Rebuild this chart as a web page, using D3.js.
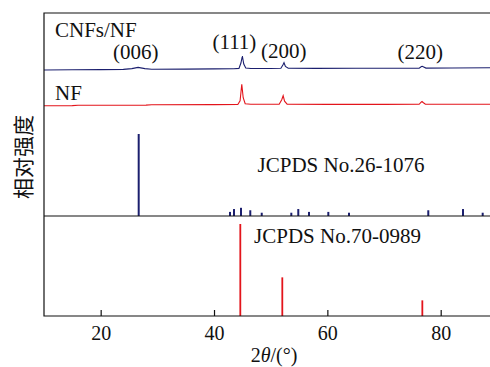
<!DOCTYPE html>
<html lang="zh">
<head>
    <meta charset="utf-8">
    <title>XRD</title>
    <style>
        body { margin: 0; background: #fff; }
        svg text { font-family: "Liberation Serif", "Times New Roman", serif; fill: #111; }
        svg text.cjk { font-family: "Noto Sans CJK SC", sans-serif; }
    </style>
</head>
<body>
    <div id="container"></div>

    <script src="https://cdn.jsdelivr.net/npm/d3@7"></script>
    <script>
        // measured patterns: [2theta, intensity above own baseline]
        const cnfCurve = [
            [10, 0], [15, 0.2], [20, 0.4], [24, 0.6], [25.5, 1.4], [26.6, 2.6], [27.8, 1.4], [29, 0.8],
            [35, 0.9], [40, 1.1], [43.5, 1.3], [44.4, 1.6], [44.75, 7], [45.0, 14], [45.25, 6], [45.6, 2],
            [46.5, 1.5], [50, 1.5], [51.8, 1.8], [52.15, 5], [52.35, 7.3], [52.6, 3.5], [53.1, 1.8],
            [58, 1.6], [65, 1.7], [72, 1.7], [76.2, 1.8], [76.6, 3.5], [76.75, 3.7], [77, 3], [77.4, 1.9],
            [82, 2], [88.7, 2.3]
        ];
        const nfCurve = [
            [10, 0], [15, 0.1], [16, 0.5], [28, 0.6], [29, 1.0], [40, 1.1], [44.2, 1.2], [44.6, 5],
            [44.9, 21.4], [45.15, 8], [45.5, 2], [46.5, 1.4], [51.5, 1.4], [51.95, 6], [52.2, 10],
            [52.45, 4.5], [52.9, 1.6], [60, 1.3], [70, 1.3], [76.2, 1.4], [76.55, 3.5], [76.7, 4.2],
            [76.9, 3.2], [77.3, 1.5], [88.7, 1.4]
        ];
        // vertical stacking of the two curves (same units as curves)
        const curveOffsets = { cnf: 146, nf: 110.3 };

        // reference sticks: [2theta, relative intensity]
        const graphiteSticks = [
            [26.71, 100], [42.82, 5], [43.53, 8.5], [44.76, 10], [46.4, 7], [48.42, 4], [53.64, 4],
            [54.87, 8.5], [56.76, 5], [60.17, 5], [63.82, 4], [77.81, 7], [83.94, 8.5], [87.41, 4]
        ];
        const nickelSticks = [[44.64, 100], [52.05, 42], [76.76, 17]];

        const hklLabels = ["(006)", "(111)", "(200)", "(220)"];
        const hklPos = [26.2, 43.6, 52.3, 76.4];
        const xTicks = [20, 40, 60, 80];

        const width = 490, height = 367;
        const pLeft = 44, pRight = 490, pTop = 13, pMid = 216, pBottom = 316;
        const blue = "#1b1f6e", red = "#e3141b";
        const fs = 21;

        const svg = d3.select("#container").append("svg")
            .attr("width", width)
            .attr("height", height);

        const x = d3.scaleLinear().domain([10, 88.7]).range([pLeft, pRight]);
        const yCurve = d3.scaleLinear().domain([0, pMid - pTop]).range([pMid, pTop]);
        const yGraphite = d3.scaleLinear().domain([0, 100]).range([pMid, 134]);
        const yNickel = d3.scaleLinear().domain([0, 100]).range([pBottom, 224]);

        // curves
        const line = off => d3.line()
            .x(d => x(d[0]))
            .y(d => yCurve(d[1] + off));

        svg.append("path")
            .datum(cnfCurve)
            .attr("d", line(curveOffsets.cnf))
            .attr("fill", "none")
            .attr("stroke", blue)
            .attr("stroke-width", 1.1);

        svg.append("path")
            .datum(nfCurve)
            .attr("d", line(curveOffsets.nf))
            .attr("fill", "none")
            .attr("stroke", red)
            .attr("stroke-width", 1.1);

        // sticks
        svg.selectAll(".gr")
            .data(graphiteSticks)
            .enter().append("line")
            .attr("x1", d => x(d[0])).attr("x2", d => x(d[0]))
            .attr("y1", yGraphite(0)).attr("y2", d => yGraphite(d[1]))
            .attr("stroke", blue)
            .attr("stroke-width", 2);

        svg.selectAll(".ni")
            .data(nickelSticks)
            .enter().append("line")
            .attr("x1", d => x(d[0])).attr("x2", d => x(d[0]))
            .attr("y1", yNickel(0)).attr("y2", d => yNickel(d[1]))
            .attr("stroke", red)
            .attr("stroke-width", 1.8);

        // frame (right side runs off the picture)
        svg.append("path")
            .attr("d", `M${pRight + 2},${pTop}H${pLeft}V${pBottom}H${pRight + 2}M${pLeft},${pMid}H${pRight + 2}`)
            .attr("fill", "none")
            .attr("stroke", "#111")
            .attr("stroke-width", 1.2);

        // x axis, ticks pointing inward
        const xAxis = svg.append("g")
            .attr("transform", `translate(0,${pBottom})`)
            .call(d3.axisBottom(x).tickValues(xTicks).tickSizeInner(-6).tickSizeOuter(0).tickPadding(10));
        xAxis.select(".domain").remove();
        xAxis.selectAll("line").attr("stroke", "#111").attr("stroke-width", 1.2);
        xAxis.selectAll("text")
            .attr("font-size", 20)
            .attr("fill", "#111");

        // labels
        svg.append("text").attr("x", 55).attr("y", 37).attr("font-size", fs).text("CNFs/NF");
        svg.append("text").attr("x", 55).attr("y", 100).attr("font-size", fs).text("NF");

        const hklY = [59, 49, 57.5, 59];
        svg.selectAll(".hkl")
            .data(hklLabels)
            .enter().append("text")
            .attr("x", (d, i) => x(hklPos[i]))
            .attr("y", (d, i) => hklY[i])
            .attr("text-anchor", "middle")
            .attr("font-size", fs)
            .text(d => d);

        svg.append("text").attr("x", 341).attr("y", 172).attr("text-anchor", "middle")
            .attr("font-size", fs).text("JCPDS No.26-1076");
        svg.append("text").attr("x", 337.5).attr("y", 243).attr("text-anchor", "middle")
            .attr("font-size", fs).text("JCPDS No.70-0989");

        const xl = svg.append("text").attr("x", 274).attr("y", 362).attr("text-anchor", "middle")
            .attr("font-size", 20);
        xl.append("tspan").text("2");
        xl.append("tspan").attr("font-style", "italic").text("θ");
        xl.append("tspan").text("/(°)");

        svg.append("text")
            .attr("class", "cjk")
            .attr("transform", "translate(31,157) rotate(-90)")
            .attr("text-anchor", "middle")
            .attr("font-size", 21)
            .text("相对强度");
    </script>
</body>
</html>
